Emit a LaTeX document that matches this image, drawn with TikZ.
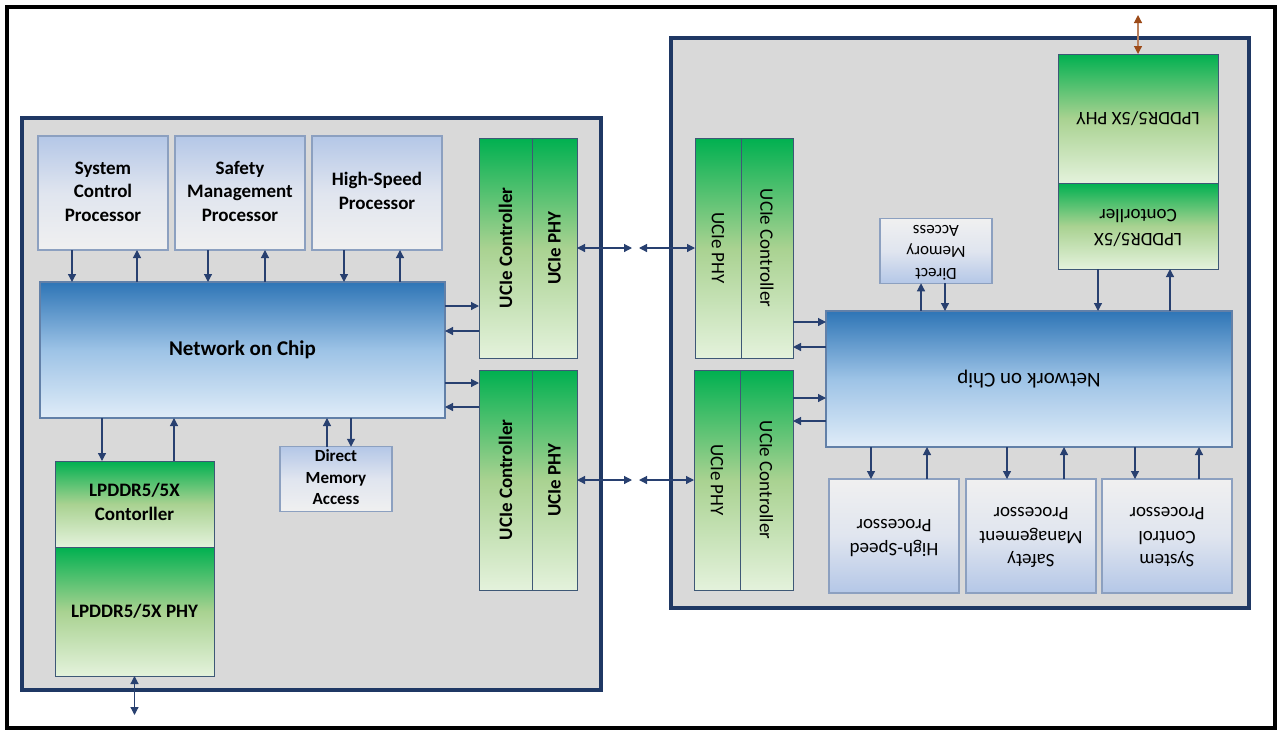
\documentclass[tikz,border=0pt]{standalone}
\usepackage{fontspec}
\setmainfont{Carlito}
\usepackage{graphicx}
\usetikzlibrary{arrows.meta,shadings}
\definecolor{navy}{RGB}{31,56,100}
\definecolor{arrc}{RGB}{40,64,112}
\definecolor{chipfill}{RGB}{217,217,217}
\definecolor{procb}{RGB}{140,160,192}
\definecolor{blueL}{RGB}{180,199,231}
\definecolor{blueM}{RGB}{224,229,239}
\definecolor{grayL}{RGB}{240,240,240}
\definecolor{greenT}{RGB}{0,176,80}
\definecolor{greenM}{RGB}{169,210,145}
\definecolor{greenB}{RGB}{228,242,220}
\definecolor{greenb}{RGB}{62,88,118}
\definecolor{nocT}{RGB}{46,117,182}
\definecolor{nocM}{RGB}{157,195,230}
\definecolor{nocB}{RGB}{224,236,248}
\definecolor{nocb}{RGB}{98,128,168}
\definecolor{brownc}{RGB}{156,74,24}
\newcommand{\mlines}[1]{\begin{tabular}{@{}c@{}}#1\end{tabular}}
\newcommand{\flip}[1]{\rotatebox[origin=c]{180}{\mlines{#1}}}
\tikzset{
  box/.style={rectangle, inner sep=0pt, outer sep=0pt, text=black},
  fL/.style={font=\fontsize{19}{23.5}\selectfont\bfseries},
  fR/.style={font=\fontsize{19}{23.5}\selectfont},
  fnL/.style={font=\fontsize{21}{25}\selectfont\bfseries},
  fnR/.style={font=\fontsize{21}{25}\selectfont},
  fdL/.style={font=\fontsize{17}{21.5}\selectfont\bfseries},
  fdR/.style={font=\fontsize{17}{21.5}\selectfont},
  chip/.style={box, draw=navy, line width=3.5pt, fill=chipfill},
  procdown/.style={box, draw=procb, line width=1.2pt, top color=blueL, bottom color=grayL, middle color=blueM},
  procup/.style={box, draw=procb, line width=1.2pt, top color=grayL, bottom color=blueL, middle color=blueM},
  greenbox/.style={box, draw=greenb, line width=1pt, top color=greenT, bottom color=greenB, middle color=greenM},
  nocbox/.style={box, draw=nocb, line width=1.2pt, top color=nocT, bottom color=nocB, middle color=nocM},
  arr/.style={draw=arrc, line width=1.2pt, -{Triangle[length=8pt,width=8pt]}},
  arrtwo/.style={draw=arrc, line width=1.2pt, {Triangle[length=8pt,width=8pt]}-{Triangle[length=8pt,width=8pt]}},
  arrbrown/.style={draw=brownc!70, line width=1.2pt, {Triangle[length=8pt,width=8pt,color=brownc]}-{Triangle[length=8pt,width=8pt,color=brownc]}},
}
\begin{document}
\begin{tikzpicture}[x=1pt,y=-1pt]
\useasboundingbox (0,0) rectangle (1280,734);
\fill[white] (0,0) rectangle (1280,734);
\draw[black, line width=4pt] (6.5,7) rectangle (1274.5,728);

% ---------------- left chip ----------------
\node[chip, minimum width=579, minimum height=572] (chipL) at (311.5,404) {};
\node[procdown, fL, minimum width=130, minimum height=114] (scp) at (103,193) {\mlines{System\\Control\\Processor}};
\node[procdown, fL, minimum width=130, minimum height=114] (smp) at (240,193) {\mlines{Safety\\Management\\Processor}};
\node[procdown, fL, minimum width=130, minimum height=114] (hsp) at (377,193) {\mlines{High-Speed\\Processor}};
\node[nocbox, fnL, minimum width=405, minimum height=136] (nocL) at (242.5,350) {Network on Chip};
\node[greenbox, fL, minimum width=53, minimum height=220] (ucLc1) at (505.5,248) {\rotatebox{90}{UCIe Controller}};
\node[greenbox, fL, minimum width=45, minimum height=220] (ucLp1) at (554.5,248) {\rotatebox{90}{UCIe PHY}};
\node[greenbox, fL, minimum width=53, minimum height=220] (ucLc2) at (505.5,480) {\rotatebox{90}{UCIe Controller}};
\node[greenbox, fL, minimum width=45, minimum height=220] (ucLp2) at (554.5,480) {\rotatebox{90}{UCIe PHY}};
\node[greenbox, fL, minimum width=159, minimum height=86] (lpcL) at (134.5,504) {\mlines{LPDDR5/5X\\Contorller}};
\node[greenbox, fL, minimum width=159, minimum height=129] (lppL) at (134.5,611.5) {LPDDR5/5X PHY};
\node[procdown, fdL, minimum width=112, minimum height=60] (dmaL) at (336,479) {\mlines{Direct\\Memory\\Access}};

% ---------------- right chip ----------------
\node[chip, minimum width=578, minimum height=570] (chipR) at (960,323) {};
\node[greenbox, fR, minimum width=46, minimum height=220] (ucRp1) at (718,248) {\rotatebox{-90}{UCIe PHY}};
\node[greenbox, fR, minimum width=52, minimum height=220] (ucRc1) at (767,248) {\rotatebox{-90}{UCIe Controller}};
\node[greenbox, fR, minimum width=46, minimum height=220] (ucRp2) at (717,480) {\rotatebox{-90}{UCIe PHY}};
\node[greenbox, fR, minimum width=53, minimum height=220] (ucRc2) at (766.5,480) {\rotatebox{-90}{UCIe Controller}};
\node[nocbox, fnR, minimum width=406, minimum height=136] (nocR) at (1029,379) {\rotatebox[origin=c]{180}{Network on Chip}};
\node[procup, fdR, minimum width=112, minimum height=60] (dmaR) at (936,251) {\flip{Direct\\Memory\\Access}};
\node[greenbox, fR, minimum width=160, minimum height=129] (lppR) at (1138,118.5) {\rotatebox[origin=c]{180}{LPDDR5/5X PHY}};
\node[greenbox, fR, minimum width=160, minimum height=86] (lpcR) at (1138,226) {\flip{LPDDR5/5X\\Contorller}};
\node[procup, fR, minimum width=130, minimum height=114] (hspR) at (894,536) {\flip{High-Speed\\Processor}};
\node[procup, fR, minimum width=130, minimum height=114] (smpR) at (1031,536) {\flip{Safety\\Management\\Processor}};
\node[procup, fR, minimum width=130, minimum height=114] (scpR) at (1167,536) {\flip{System\\Control\\Processor}};

% ---------------- left arrows ----------------
\draw[arr] (scp.south -| 72,0) -- (nocL.north -| 72,0);
\draw[arr] (nocL.north -| 137,0) -- (scp.south -| 137,0);
\draw[arr] (smp.south -| 208,0) -- (nocL.north -| 208,0);
\draw[arr] (nocL.north -| 265,0) -- (smp.south -| 265,0);
\draw[arr] (hsp.south -| 344,0) -- (nocL.north -| 344,0);
\draw[arr] (nocL.north -| 400,0) -- (hsp.south -| 400,0);
\draw[arr] (nocL.east |- 0,306) -- (ucLc1.west |- 0,306);
\draw[arr] (ucLc1.west |- 0,331) -- (nocL.east |- 0,331);
\draw[arr] (nocL.east |- 0,383) -- (ucLc2.west |- 0,383);
\draw[arr] (ucLc2.west |- 0,407) -- (nocL.east |- 0,407);
\draw[arr] (nocL.south -| 102,0) -- (lpcL.north -| 102,0);
\draw[arr] (lpcL.north -| 174,0) -- (nocL.south -| 174,0);
\draw[arr] (dmaL.north -| 327,0) -- (nocL.south -| 327,0);
\draw[arr] (nocL.south -| 351,0) -- (dmaL.north -| 351,0);
\coordinate (memL) at (134.5,715);
\draw[arrtwo] (lppL.south) -- (memL);

% ---------------- inter-chip links ----------------
\coordinate (linkA1) at (632,248);
\coordinate (linkB1) at (639,248);
\coordinate (linkA2) at (632,480);
\coordinate (linkB2) at (639,480);
\draw[arrtwo] (ucLp1.east) -- (linkA1);
\draw[arrtwo] (linkB1) -- (ucRp1.west);
\draw[arrtwo] (ucLp2.east) -- (linkA2);
\draw[arrtwo] (linkB2) -- (ucRp2.west);

% ---------------- right arrows ----------------
\draw[arr] (ucRc1.east |- 0,322) -- (nocR.west |- 0,322);
\draw[arr] (nocR.west |- 0,347) -- (ucRc1.east |- 0,347);
\draw[arr] (ucRc2.east |- 0,398) -- (nocR.west |- 0,398);
\draw[arr] (nocR.west |- 0,421) -- (ucRc2.east |- 0,421);
\draw[arr] (nocR.north -| 921,0) -- (dmaR.south -| 921,0);
\draw[arr] (dmaR.south -| 945,0) -- (nocR.north -| 945,0);
\draw[arr] (lpcR.south -| 1098,0) -- (nocR.north -| 1098,0);
\draw[arr] (nocR.north -| 1170,0) -- (lpcR.south -| 1170,0);
\draw[arr] (nocR.south -| 871,0) -- (hspR.north -| 871,0);
\draw[arr] (hspR.north -| 927,0) -- (nocR.south -| 927,0);
\draw[arr] (nocR.south -| 1007,0) -- (smpR.north -| 1007,0);
\draw[arr] (smpR.north -| 1064,0) -- (nocR.south -| 1064,0);
\draw[arr] (nocR.south -| 1135,0) -- (scpR.north -| 1135,0);
\draw[arr] (scpR.north -| 1199,0) -- (nocR.south -| 1199,0);
\coordinate (memR) at (1138,15);
\draw[arrbrown] (lppR.north) -- (memR);
\end{tikzpicture}
\end{document}
